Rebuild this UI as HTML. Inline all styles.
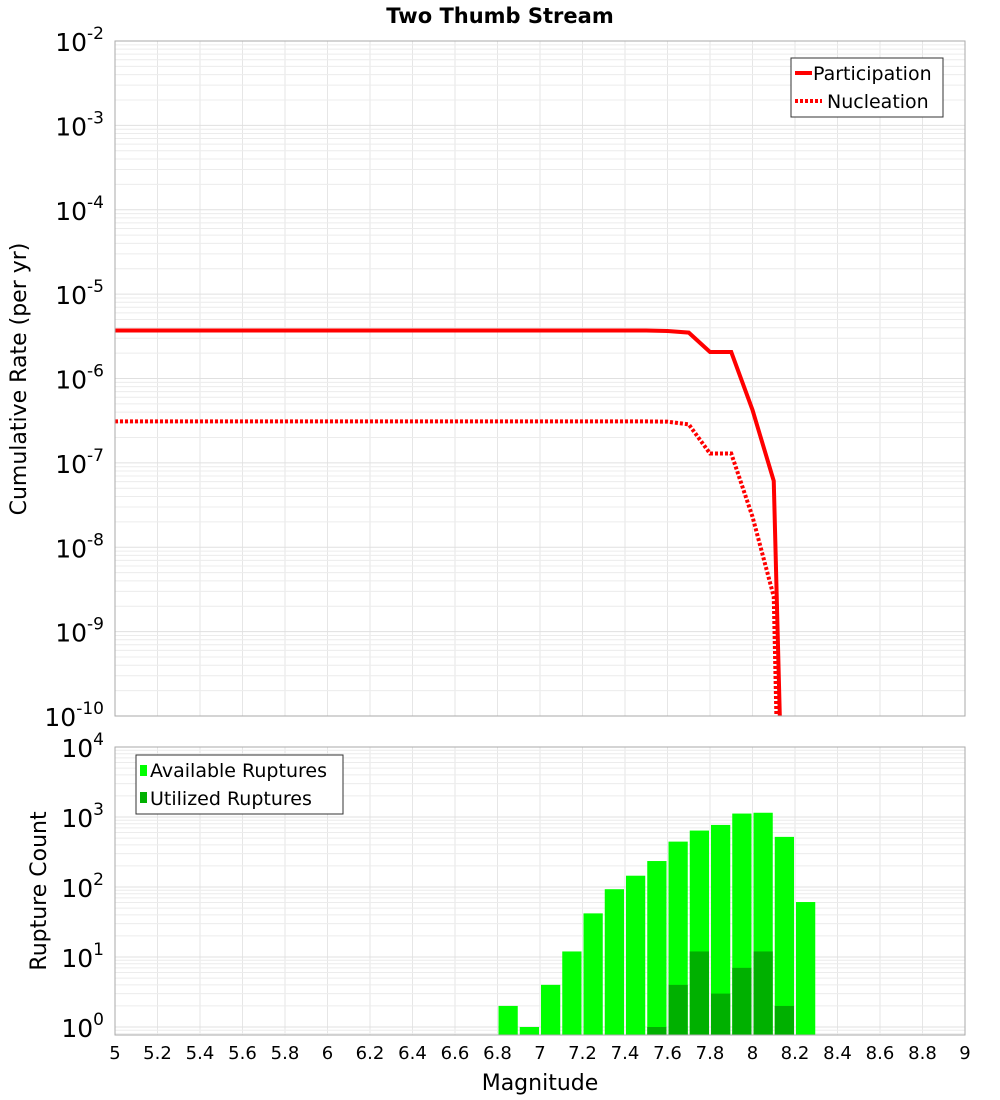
<!DOCTYPE html>
<html><head><meta charset="utf-8"><style>html,body{margin:0;background:#fff;overflow:hidden;width:1000px;height:1100px}svg{display:block;font-family:"DejaVu Sans","Liberation Sans",sans-serif}</style></head>
<body>
<svg id="c" width="1000" height="1100" xmlns="http://www.w3.org/2000/svg"></svg>
<script>
const mags = [5.0,5.1,5.2,5.3,5.4,5.5,5.6,5.7,5.8,5.9,6.0,6.1,6.2,6.3,6.4,6.5,6.6,6.7,6.8,6.9,7.0,7.1,7.2,7.3,7.4,7.5,7.6,7.7,7.8,7.9,8.0,8.1,8.2];
const participation = [3.7e-6,3.7e-6,3.7e-6,3.7e-6,3.7e-6,3.7e-6,3.7e-6,3.7e-6,3.7e-6,3.7e-6,3.7e-6,3.7e-6,3.7e-6,3.7e-6,3.7e-6,3.7e-6,3.7e-6,3.7e-6,3.7e-6,3.7e-6,3.7e-6,3.7e-6,3.7e-6,3.7e-6,3.7e-6,3.7e-6,3.66e-6,3.5e-6,2.06e-6,2.06e-6,4.24e-7,6.1e-8,1e-17];
const nucleation = [3.1e-7,3.1e-7,3.1e-7,3.1e-7,3.1e-7,3.1e-7,3.1e-7,3.1e-7,3.1e-7,3.1e-7,3.1e-7,3.1e-7,3.1e-7,3.1e-7,3.1e-7,3.1e-7,3.1e-7,3.1e-7,3.1e-7,3.1e-7,3.1e-7,3.1e-7,3.1e-7,3.1e-7,3.1e-7,3.1e-7,3.08e-7,2.86e-7,1.29e-7,1.29e-7,2.3e-8,2.6e-9,1e-20];
const binStarts = [6.8,6.9,7.0,7.1,7.2,7.3,7.4,7.5,7.6,7.7,7.8,7.9,8.0,8.1,8.2];
const available = [2,1,4,12,42,93,145,235,445,640,770,1120,1150,520,61];
const utilized = [0,0,0,0,0,0,0,1,4,12,3,7,12,2,0];
const xTicks = [5,5.2,5.4,5.6,5.8,6,6.2,6.4,6.6,6.8,7,7.2,7.4,7.6,7.8,8,8.2,8.4,8.6,8.8,9];
const topExps = [-2,-3,-4,-5,-6,-7,-8,-9,-10];
const botExps = [4,3,2,1,0];

const NS="http://www.w3.org/2000/svg", svg=document.getElementById('c');
function el(t,a,p){const e=document.createElementNS(NS,t);for(const k in a)e.setAttribute(k,a[k]);(p||svg).appendChild(e);return e;}
const X0=115,X1=965;
const x=m=>X0+(m-5)/(9-5)*(X1-X0);
const T0=41,T1=716; const yT=v=>T0+(-2-Math.log10(v))/8*(T1-T0);
const B0=747,B1=1035; const BD=70; const yB=v=>B0+(4-Math.log10(v))*BD;

const title=el('text',{x:500,y:23,'text-anchor':'middle','font-size':21,'font-weight':'bold'});title.textContent='Two Thumb Stream';


function grid(top,bot,yfun,lo,hi,g){
  xTicks.forEach(t=>{el('line',{x1:x(t),x2:x(t),y1:top,y2:bot,stroke:'#e6e6e6','stroke-width':1},g);});
  for(let e=lo;e<hi;e++)for(let k=1;k<10;k++){const yy=yfun(k*Math.pow(10,e));if(yy>=top&&yy<=bot)el('line',{x1:X0,x2:X1,y1:yy,y2:yy,stroke:k==1?'#e0e0e0':'#ececec','stroke-width':1},g);}
}
const gt=el('g',{});
grid(T0,T1,yT,-10,-2,gt);
el('defs',{}).innerHTML='<clipPath id="ct"><rect x="115" y="41" width="850" height="675"/></clipPath><clipPath id="cb"><rect x="115" y="747" width="850" height="288"/></clipPath>';
function line(vals,dash,name){const p=el('polyline',{points:mags.map((m,i)=>x(m)+','+yT(vals[i])).join(' '),fill:'none',stroke:'#ff0000','stroke-width':4,'clip-path':'url(#ct)'},gt);if(dash)p.setAttribute('stroke-dasharray',dash);
}
line(participation,null,'participation-line');
line(nucleation,'3,2','nucleation-line');
el('rect',{x:X0,y:T0,width:X1-X0,height:T1-T0,fill:'none',stroke:'#aaa'},gt);
topExps.forEach(e=>{const t=el('text',{x:104,y:yT(Math.pow(10,e))+10,'text-anchor':'end','font-size':25},gt);t.innerHTML='10<tspan dy="-12" font-size="17">'+e+'</tspan>';
});
const yt=el('text',{transform:'translate(26,379) rotate(-90)','text-anchor':'middle','font-size':22});yt.textContent='Cumulative Rate (per yr)';

const lg=el('g',{});
el('rect',{x:791,y:58,width:152,height:59,fill:'#fff',stroke:'#333'},lg);
el('line',{x1:795,x2:812,y1:73,y2:73,stroke:'#f00','stroke-width':4},lg);
el('line',{x1:795,x2:822,y1:101,y2:101,stroke:'#f00','stroke-width':4,'stroke-dasharray':'3,2'},lg);
let t1=el('text',{x:813,y:80,'font-size':19},lg);t1.textContent='Participation';
let t2=el('text',{x:827,y:108,'font-size':19},lg);t2.textContent='Nucleation';

const gb=el('g',{});
grid(B0,B1,yB,-1,4,gb);
const bw=x(5.1)-x(5);
binStarts.forEach((m,i)=>{
  const r=el('rect',{x:x(m)+1,y:yB(available[i]),width:bw-2,height:B1-yB(available[i]),fill:'#00ff00','clip-path':'url(#cb)'},gb);
  
  if(utilized[i]>0){const u=el('rect',{x:x(m)+1,y:yB(utilized[i]),width:bw-2,height:B1-yB(utilized[i]),fill:'#00b000','clip-path':'url(#cb)'},gb);
  }
});
el('rect',{x:X0,y:B0,width:X1-X0,height:B1-B0,fill:'none',stroke:'#aaa'},gb);
botExps.forEach(e=>{const t=el('text',{x:104,y:yB(Math.pow(10,e))+10,'text-anchor':'end','font-size':25},gb);t.innerHTML='10<tspan dy="-12" font-size="17">'+e+'</tspan>';
});
const yb=el('text',{transform:'translate(46,891) rotate(-90)','text-anchor':'middle','font-size':22});yb.textContent='Rupture Count';

xTicks.forEach(t=>{const tx=el('text',{x:x(t),y:1059,'text-anchor':'middle','font-size':18},gb);tx.textContent=String(t);
});
const xt=el('text',{x:540,y:1090,'text-anchor':'middle','font-size':22});xt.textContent='Magnitude';

const lb=el('g',{});
el('rect',{x:136,y:755,width:207,height:59,fill:'#fff',stroke:'#333'},lb);
el('rect',{x:140,y:765,width:7,height:11,fill:'#00ff00'},lb);
el('rect',{x:140,y:792,width:7,height:11,fill:'#00b000'},lb);
let t3=el('text',{x:150,y:777,'font-size':19},lb);t3.textContent='Available Ruptures';
let t4=el('text',{x:150,y:805,'font-size':19},lb);t4.textContent='Utilized Ruptures';
</script>
</body></html>
